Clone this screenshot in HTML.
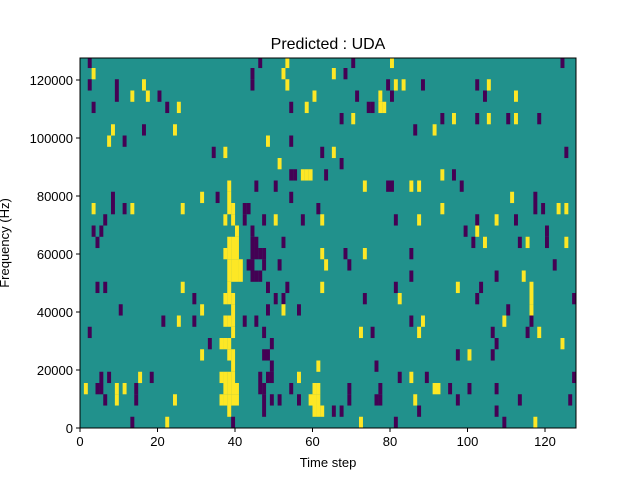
<!DOCTYPE html>
<html><head><meta charset="utf-8"><style>
html,body{margin:0;padding:0;background:#fff;}
svg{display:block;font-family:"Liberation Sans","DejaVu Sans",sans-serif;}
</style></head><body>
<svg id="s" width="640" height="480" viewBox="0 0 640 480" xmlns="http://www.w3.org/2000/svg">
<defs><clipPath id="cp"><rect x="80" y="58" width="496" height="370"/></clipPath></defs>
<rect x="80" y="58" width="496" height="370" fill="#21918c"/>
<g id="cells" clip-path="url(#cp)"></g>
<rect x="80" y="58" width="496" height="370" fill="none" stroke="#000" stroke-width="1"/>
<g stroke="#000" stroke-width="1">
<line x1="80" y1="428" x2="80" y2="432"/><line x1="157.5" y1="428" x2="157.5" y2="432"/><line x1="235" y1="428" x2="235" y2="432"/><line x1="312.5" y1="428" x2="312.5" y2="432"/><line x1="390" y1="428" x2="390" y2="432"/><line x1="467.5" y1="428" x2="467.5" y2="432"/><line x1="545" y1="428" x2="545" y2="432"/>
<line x1="76" y1="428" x2="80" y2="428"/><line x1="76" y1="370" x2="80" y2="370"/><line x1="76" y1="312" x2="80" y2="312"/><line x1="76" y1="254" x2="80" y2="254"/><line x1="76" y1="196" x2="80" y2="196"/><line x1="76" y1="138" x2="80" y2="138"/><line x1="76" y1="80" x2="80" y2="80"/>
</g>
<g font-size="13" fill="#000" text-anchor="middle">
<text x="80" y="446">0</text><text x="157.5" y="446">20</text><text x="235" y="446">40</text><text x="312.5" y="446">60</text><text x="390" y="446">80</text><text x="467.5" y="446">100</text><text x="545" y="446">120</text>
<text x="328" y="467">Time step</text>
</g>
<g font-size="13" fill="#000" text-anchor="end">
<text x="73" y="433">0</text><text x="73" y="375">20000</text><text x="73" y="317">40000</text><text x="73" y="259">60000</text><text x="73" y="201">80000</text><text x="73" y="143">100000</text><text x="73" y="85">120000</text>
</g>
<text x="9" y="243" font-size="13" text-anchor="middle" transform="rotate(-90 9 243)">Frequency (Hz)</text>
<text x="328" y="49" font-size="16" text-anchor="middle">Predicted : UDA</text>
</svg>
<script>
var P="#440154",Y="#fde725";
// [row k, color, cols...]  ranges as "a-b"
var d=[
[0,P,2,46,70,124],[0,Y,53,80],
[1,Y,3,52,65],[1,P,44,68],
[2,P,2,9,44,79,88,102],[2,Y,16,53,81,83,105],
[3,P,9,20,71,80,104],[3,Y,13,17,60,77,112],
[4,P,3,22,54,74,75],[4,Y,25,58,77,78],
[5,P,67,93,102,110,118],[5,Y,70,96,105,112],
[6,Y,8,24,91],[6,P,16,86],
[7,Y,7,48],[7,P,11,54],
[8,P,34,62,125],[8,Y,37,65],
[9,Y,51],[9,P,67],
[10,P,54,55,63,96],[10,Y,57,58,59,93],
[11,Y,38,73,85,87],[11,P,45,50,79,80,98],
[12,P,8,35,54,117],[12,Y,31,38,111],
[13,Y,3,13,26,38,39,93,123,125],[13,P,8,11,42,43,61,117,119],
[14,P,6,42,47,57,81,102,112],[14,Y,37,39,50,62,87,107],
[15,P,3,5,44,99,120],[15,Y,40,102],
[16,P,4,44,45,52,101,113,120],[16,Y,38,39,40,104,115,125],
[17,Y,37,38,39,40,62,73],[17,P,44,45,46,47,68,85],
[18,Y,38,39,40,41,63],[18,P,43,44,47,51,69,122],
[19,Y,38,39,40,41,114],[19,P,44,45,46,85,107],
[20,P,4,6,48,53,81,103],[20,Y,26,38,62,97,116],
[21,P,29,50,52,73,102,127],[21,Y,37,38,39,82,116],
[22,P,10,48,56,110],[22,Y,31,39,52,116],
[23,P,21,29,42,45,85,116],[23,Y,25,37,38,39,88,109],
[24,P,2,47,75,106,115],[24,Y,39,72,87,118],
[25,P,33,49,107],[25,Y,36,37,38,124],
[26,Y,31,38,39,100],[26,P,47,48,97,106],
[27,Y,39,61],[27,P,49,76],
[28,P,5,7,18,46,48,49,82,89,127],[28,Y,15,36,37,38,39,56,85],
[29,Y,1,9,11,37,38,39,40,60,61,91,92],[29,P,4,5,14,46,47,54,69,77,95,100,107],
[30,P,6,14,47,49,51,56,69,76,77,97,113,126],[30,Y,9,24,36,37,38,39,40,59,60,61,86],
[31,Y,38,60,61,62],[31,P,47,65,67,87,107],
[32,P,13,39,81,109],[32,Y,22,72,117]
];
var g=document.getElementById("cells"),ns="http://www.w3.org/2000/svg",h="";
d.forEach(function(r){var k=r[0],c=r[1];var y=428-(33-k)*11.25;
for(var i=2;i<r.length;i++){var x=80+r[i]*3.875;
h+='<rect x="'+x.toFixed(3)+'" y="'+y.toFixed(2)+'" width="3.95" height="11.3" fill="'+c+'"/>';}});
g.innerHTML=h;
</script>
</body></html>
